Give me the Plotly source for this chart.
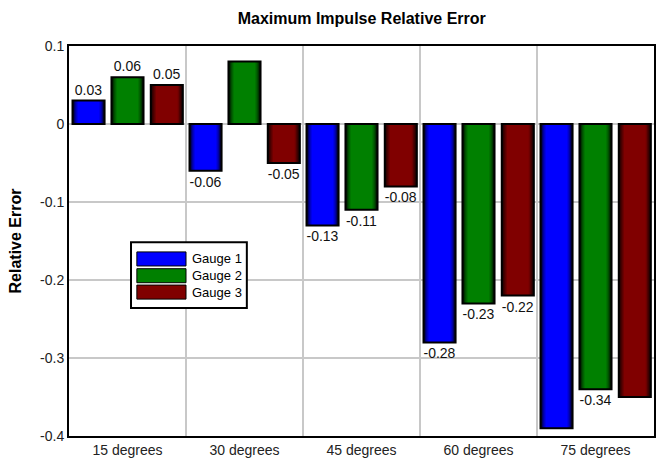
import plotly.graph_objects as go

# chart data
categories = ["15 degrees", "30 degrees", "45 degrees", "60 degrees", "75 degrees"]
series_names = ["Gauge 1", "Gauge 2", "Gauge 3"]
gauge1 = [0.03, -0.06, -0.13, -0.28, -0.39]
gauge2 = [0.06, 0.08, -0.11, -0.23, -0.34]
gauge3 = [0.05, -0.05, -0.08, -0.22, -0.35]
# value labels as shown (some are not drawn in the original)
labels1 = ["0.03", "-0.06", "-0.13", "-0.28", ""]
labels2 = ["0.06", "", "-0.11", "-0.23", "-0.34"]
labels3 = ["0.05", "-0.05", "-0.08", "-0.22", ""]
y_ticks = [0.1, 0, -0.1, -0.2, -0.3, -0.4]
y_ticktext = ["0.1", "0", "-0.1", "-0.2", "-0.3", "-0.4"]

series_values = [gauge1, gauge2, gauge3]
series_labels = [labels1, labels2, labels3]
base_rgb = [(0, 0, 255), (0, 128, 0), (128, 0, 0)]
shifts = [-0.333, 0.0, 0.336]
bar_w = 0.274

# fake horizontal gradient: stacked layers, dark at edges, bright inside
layer_frac = [1.0, 0.92, 0.84, 0.76, 0.68]
layer_shade = [0.2, 0.42, 0.64, 0.85, 1.0]

FONT = "Liberation Sans, Arial, sans-serif"

fig = go.Figure()
for vals, rgb, sh in zip(series_values, base_rgb, shifts):
    for frac, shade in zip(layer_frac, layer_shade):
        w = bar_w * frac
        col = "rgb(%d,%d,%d)" % tuple(int(c * shade) for c in rgb)
        fig.add_trace(go.Bar(
            x=categories, y=vals, width=w, offset=sh - w / 2,
            marker=dict(color=col, line=dict(width=0)),
            showlegend=False, hoverinfo="skip",
        ))

# outlines + value labels on top
for name, vals, labs, sh in zip(series_names, series_values, series_labels, shifts):
    fig.add_trace(go.Bar(
        x=categories, y=vals, width=bar_w, offset=sh - bar_w / 2, name=name,
        marker=dict(color="rgba(0,0,0,0)", line=dict(color="black", width=2)),
        text=labs, textposition="outside", cliponaxis=False,
        textfont=dict(family=FONT, size=14, color="#111"),
        showlegend=False,
    ))

# legend drawn as a framed box with wide swatches
shapes = [dict(type="rect", xref="paper", yref="paper", x0=0.106, x1=0.304,
               y0=0.328, y1=0.497, line=dict(color="black", width=2),
               fillcolor="white", layer="above")]
annotations = []
row_y = [0.454, 0.411, 0.369]
for name, rgb, yc in zip(series_names, base_rgb, row_y):
    shapes.append(dict(type="rect", xref="paper", yref="paper", x0=0.116, x1=0.2,
                       y0=yc - 0.018, y1=yc + 0.018,
                       fillcolor="rgb(%d,%d,%d)" % rgb,
                       line=dict(color="black", width=1), layer="above"))
    annotations.append(dict(xref="paper", yref="paper", x=0.207, y=yc, text=name,
                            showarrow=False, xanchor="left", yanchor="middle",
                            font=dict(family=FONT, size=13, color="black")))

fig.update_layout(
    width=668, height=461,
    margin=dict(l=69, r=14, t=46, b=25, autoexpand=False),
    barmode="overlay",
    plot_bgcolor="white", paper_bgcolor="white",
    title=dict(text="<b>Maximum Impulse Relative Error</b>", x=0.5415, xanchor="center",
               y=0.961, yanchor="middle", automargin=False,
               font=dict(family=FONT, size=16, color="black")),
    font=dict(family=FONT, size=14, color="#222"),
    showlegend=False,
    shapes=shapes, annotations=annotations,
    xaxis=dict(type="category", tickson="boundaries", showgrid=True,
               gridcolor="#c8c8c8", gridwidth=2, ticks="", automargin=False,
               showline=True, linecolor="black", linewidth=2, mirror=True,
               tickfont=dict(size=14, color="#222")),
    yaxis=dict(range=[-0.4, 0.1], tickvals=y_ticks, ticktext=y_ticktext,
               showgrid=True, gridcolor="#c8c8c8", gridwidth=2, automargin=False,
               zeroline=False, ticks="", ticklen=0,
               showline=True, linecolor="black", linewidth=2, mirror=True,
               tickfont=dict(size=14, color="#222"),
               title=dict(text="<b>Relative Error</b>", standoff=14,
                          font=dict(family=FONT, size=16, color="black"))),
)

# drop the default page margin so the figure sits at the window's corner
fig.write_html("out.html", config={"displayModeBar": False},
               post_script="document.body.style.margin='0';")
